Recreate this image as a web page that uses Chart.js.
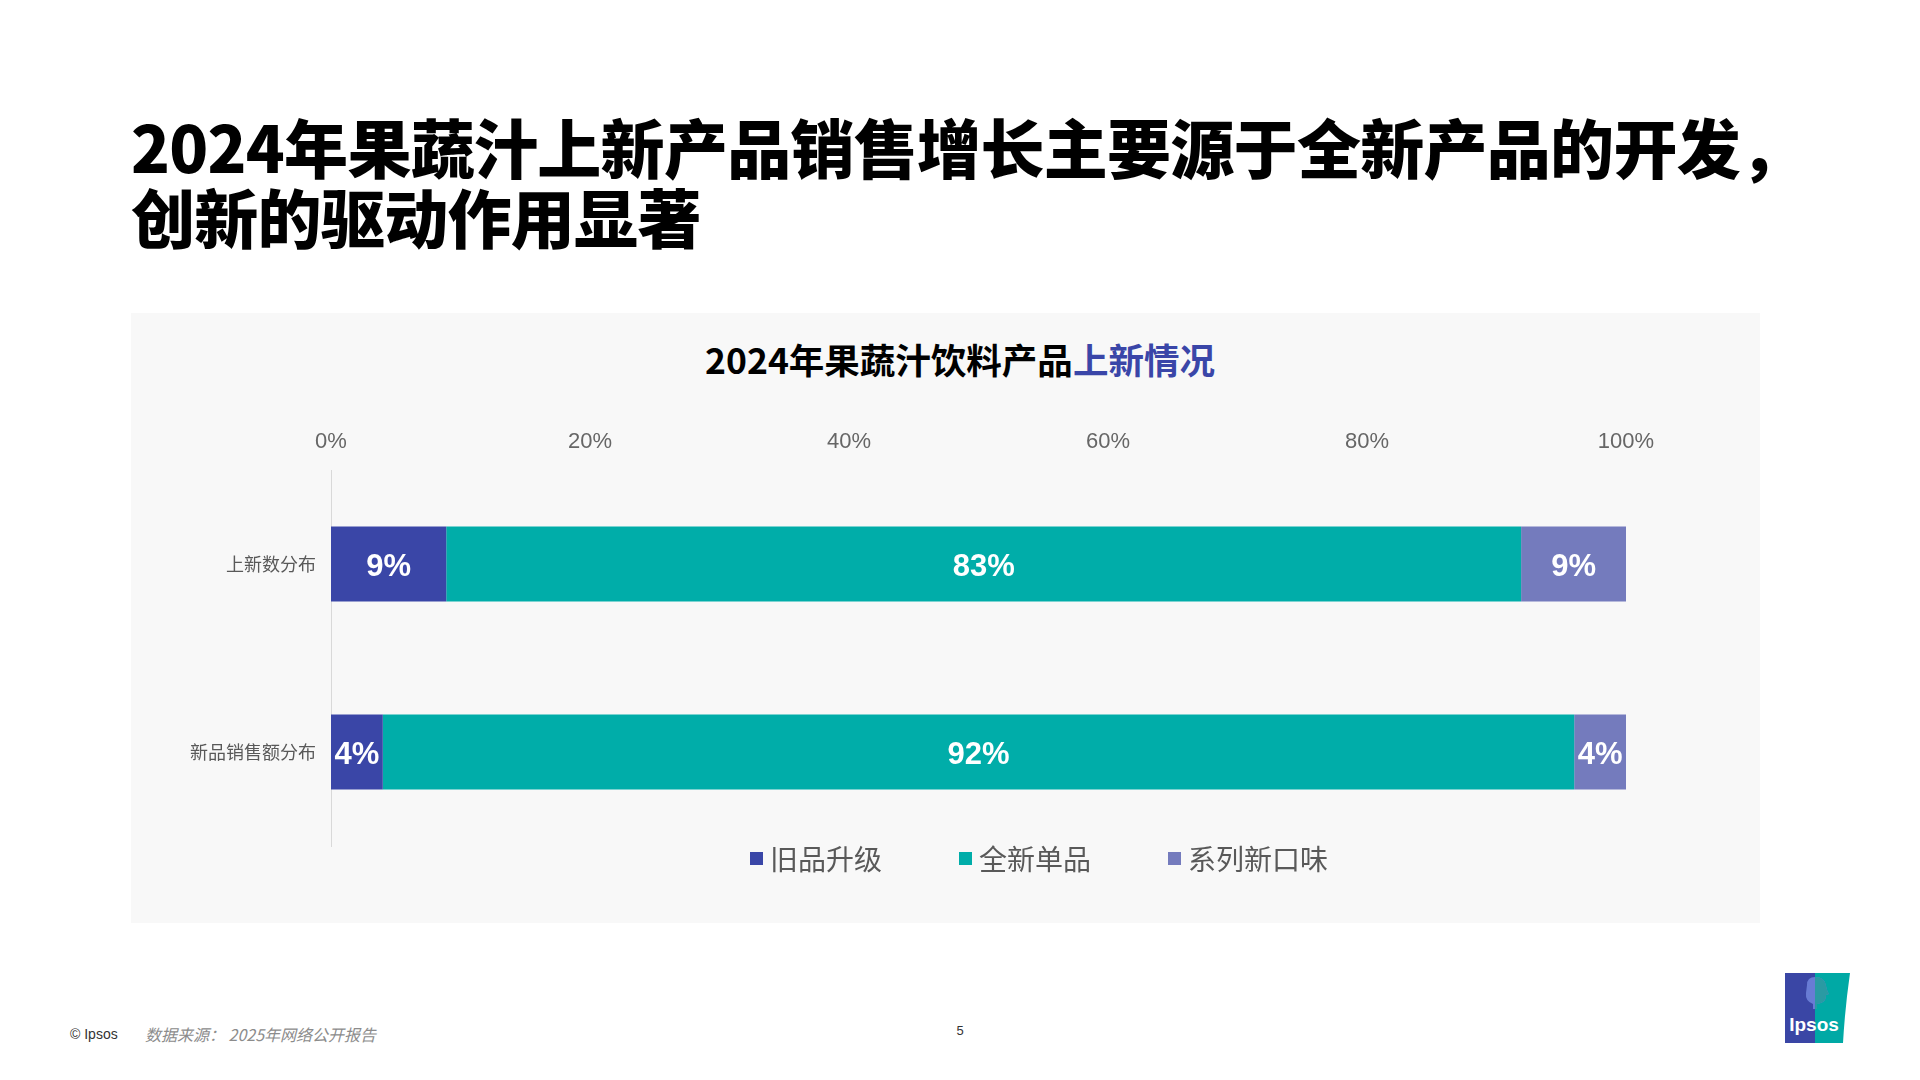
<!DOCTYPE html>
<html lang="zh-CN">
<head>
<meta charset="utf-8">
<title>2024年果蔬汁饮料产品上新情况</title>
<script src="https://cdn.jsdelivr.net/npm/chart.js@4.4.1/dist/chart.umd.min.js"></script>
<style>
  html, body { margin: 0; padding: 0; background: #ffffff; }
  body { width: 1920px; height: 1080px; position: relative; overflow: hidden;
         font-family: "Noto Sans CJK SC", "Liberation Sans", sans-serif; }
  #title { position: absolute; left: 131px; top: 110px; font-size: 64px; line-height: 70px;
           font-weight: 900; color: #000; letter-spacing: -0.7px; white-space: nowrap; }
  #panel { position: absolute; left: 131px; top: 313px; width: 1629px; height: 610px; background: #f8f8f8; }
  #chartTitle { position: absolute; left: 0; width: 1920px; top: 339px; text-align: center;
                font-size: 35.5px; line-height: 40px; font-weight: 700; color: #000; }
  #chartTitle .hl { color: #3a46a8; }
  #chart { position: absolute; left: 131px; top: 313px; }
  #legend { position: absolute; left: 750px; top: 838px; height: 40px; display: flex; align-items: center; gap: 77px; }
  .lg-item { display: flex; align-items: center; }
  .lg-box { width: 13px; height: 13px; margin-right: 7px; }
  .lg-text { font-size: 28px; line-height: 40px; color: #595959; white-space: nowrap; }
  #copy { position: absolute; left: 70px; top: 1025px; font-family: "Liberation Sans", Arial, sans-serif;
          font-size: 14px; line-height: 18px; color: #333; }
  #source { position: absolute; left: 145px; top: 1023px; font-size: 16px; line-height: 22px;
            font-style: italic; color: #8c8c8c; white-space: nowrap; }
  #page { position: absolute; left: 950px; width: 20px; text-align: center; top: 1022px;
          font-family: "Liberation Sans", Arial, sans-serif; font-size: 13px; line-height: 18px; color: #333; }
  #logo { position: absolute; left: 1785px; top: 973px; }
</style>
</head>
<body>
<div id="title">2024年果蔬汁上新产品销售增长主要源于全新产品的开发，<br>创新的驱动作用显著</div>
<div id="panel"></div>
<div id="chartTitle">2024年果蔬汁饮料产品<span class="hl">上新情况</span></div>
<canvas id="chart" width="1629" height="610"></canvas>
<div id="legend"></div>
<div id="copy">© Ipsos</div>
<div id="source">数据来源：&nbsp;2025年网络公开报告</div>
<div id="page">5</div>
<svg id="logo" width="66" height="70" viewBox="0 0 66 70">
  <rect x="0" y="0" width="31" height="70" fill="#3a46a5"/>
  <path d="M30 0 L65 0 Q60 35 58 70 L30 70 Z" fill="#00a9a5"/>
  <path d="M22 12 Q22 4 30 4 Q40 4 41 13 Q42 18 44 21 L41 22 Q41 27 38 29 Q34 31 32 31 L32 36 L28 36 L28 31 Q20 28 21 20 Z" fill="#6a7fd6" opacity="0.95"/>
  <path d="M30 4 Q40 4 41 13 Q42 18 44 21 L41 22 Q41 27 38 29 Q34 31 32 31 L32 36 L30 36 Z" fill="#2a9aa3"/>
  <text x="29" y="58" text-anchor="middle" font-family="Liberation Sans, Arial, sans-serif" font-weight="700" font-size="19" fill="#ffffff">Ipsos</text>
</svg>
<script>
// ---- data ----
const categories = ['上新数分布', '新品销售额分布'];
const seriesNames = ['旧品升级', '全新单品', '系列新口味'];
const seriesColors = ['#3a46a7', '#00ada9', '#747bbd'];
const upgradeValues = [8.9, 4.0];
const brandNewValues = [83.0, 92.0];
const newFlavorValues = [8.1, 4.0];
const upgradeLabels = ['9%', '4%'];
const brandNewLabels = ['83%', '92%'];
const newFlavorLabels = ['9%', '4%'];
const xTicks = [0, 20, 40, 60, 80, 100];

const seriesValues = [upgradeValues, brandNewValues, newFlavorValues];
const seriesLabels = [upgradeLabels, brandNewLabels, newFlavorLabels];

// legend (HTML)
const legendEl = document.getElementById('legend');
seriesNames.forEach((n, i) => {
  const item = document.createElement('div');
  item.className = 'lg-item';
  const box = document.createElement('div');
  box.className = 'lg-box';
  box.style.background = seriesColors[i];
  const txt = document.createElement('div');
  txt.className = 'lg-text';
  txt.textContent = n;
  item.appendChild(box); item.appendChild(txt);
  legendEl.appendChild(item);
});

const barLabelPlugin = {
  id: 'barLabels',
  afterDatasetsDraw(chart) {
    const ctx = chart.ctx;
    ctx.save();
    ctx.font = 'bold 31px "Liberation Sans", Arial, sans-serif';
    ctx.fillStyle = '#ffffff';
    ctx.textAlign = 'center';
    ctx.textBaseline = 'middle';
    chart.data.datasets.forEach((ds, di) => {
      const meta = chart.getDatasetMeta(di);
      meta.data.forEach((el, i) => {
        const p = el.getCenterPoint();
        ctx.fillText(seriesLabels[di][i], p.x, p.y + 3);
      });
    });
    ctx.restore();
  }
};

new Chart(document.getElementById('chart'), {
  type: 'bar',
  data: {
    labels: categories,
    datasets: seriesNames.map((n, i) => ({
      label: n,
      data: seriesValues[i],
      backgroundColor: seriesColors[i],
      borderWidth: 0,
      barPercentage: 0.8,
      categoryPercentage: 0.5
    }))
  },
  options: {
    indexAxis: 'y',
    responsive: false,
    animation: false,
    devicePixelRatio: 1,
    layout: { padding: { left: 0, right: 134, top: 0, bottom: 77 } },
    plugins: {
      legend: { display: false },
      title: { display: false },
      tooltip: { enabled: false }
    },
    scales: {
      x: {
        position: 'top',
        stacked: true,
        min: 0,
        max: 100,
        afterBuildTicks: (s) => { s.ticks = xTicks.map(v => ({ value: v })); },
        afterFit: (s) => { s.height = 157; },
        ticks: {
          callback: (v) => v + '%',
          font: { family: '"Liberation Sans", Arial, sans-serif', size: 22 },
          color: '#666666',
          padding: 15,
          maxRotation: 0
        },
        grid: { display: false, drawTicks: false },
        border: { display: false }
      },
      y: {
        stacked: true,
        afterFit: (s) => { s.width = 200; },
        ticks: {
          font: { family: '"Noto Sans CJK SC", sans-serif', size: 18 },
          color: '#595959',
          padding: 15
        },
        grid: { display: false, drawTicks: false },
        border: { display: true, color: '#d9d9d9', width: 1 }
      }
    }
  },
  plugins: [barLabelPlugin]
});
</script>
</body>
</html>
